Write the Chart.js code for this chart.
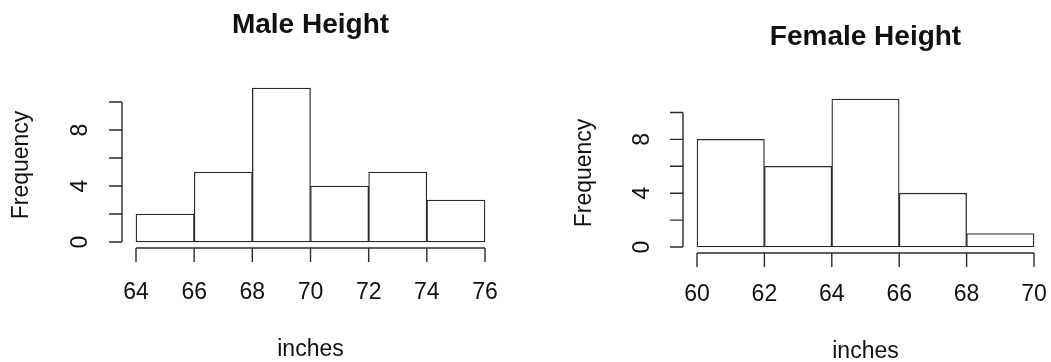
<!DOCTYPE html>
<html>
<head>
<meta charset="utf-8">
<script src="https://cdn.jsdelivr.net/npm/chart.js@4"></script>
<style>
  html, body { margin: 0; padding: 0; background: #fff; }
  .wrap { position: absolute; top: 0; height: 362px; }
  #left { left: 0; width: 525px; }
  #right { left: 525px; width: 526px; }
</style>
</head>
<body>
<div class="wrap" id="left"><canvas id="male" width="525" height="362"></canvas></div>
<div class="wrap" id="right"><canvas id="female" width="526" height="362"></canvas></div>
<script>
// Male histogram: bins of 2 inches from 64 to 76
const maleBreaks = [64, 66, 68, 70, 72, 74, 76];
const maleCounts = [2, 5, 11, 4, 5, 3];
// Female histogram: bins of 2 inches from 60 to 70
const femaleBreaks = [60, 62, 64, 66, 68, 70];
const femaleCounts = [8, 6, 11, 4, 1];
// y axis ticks (R draws every 2, labels only where they fit)
const yTicks = [0, 2, 4, 6, 8, 10];
const yLabels = ['0', '', '4', '', '8', ''];

const FONT = '"Liberation Sans", Arial, Helvetica, sans-serif';
const INK = '#2b2b2b';

// draws R-style detached axes, titles and axis labels
const rAxes = {
  id: 'rAxes',
  afterDraw(chart, args, o) {
    const c = chart.ctx;
    const xs = chart.scales.x, ys = chart.scales.y;
    const area = chart.chartArea;
    c.save();
    c.strokeStyle = INK;
    c.fillStyle = '#111';
    c.lineWidth = 1.4;

    // y axis
    const ax = area.left - 14;
    c.beginPath();
    c.moveTo(ax, ys.getPixelForValue(yTicks[0]));
    c.lineTo(ax, ys.getPixelForValue(yTicks[yTicks.length - 1]));
    yTicks.forEach(v => {
      const py = ys.getPixelForValue(v);
      c.moveTo(ax, py);
      c.lineTo(ax - 13, py);
    });
    c.stroke();
    c.font = '23px ' + FONT;
    c.textAlign = 'center';
    c.textBaseline = 'middle';
    yTicks.forEach((v, i) => {
      if (!yLabels[i]) return;
      c.save();
      c.translate(ax - o.yLabelGap, ys.getPixelForValue(v));
      c.rotate(-Math.PI / 2);
      c.fillText(yLabels[i], 0, 0);
      c.restore();
    });

    // x axis
    const ay = ys.getPixelForValue(0) + 6;
    const br = o.breaks;
    c.beginPath();
    c.moveTo(xs.getPixelForValue(br[0]), ay);
    c.lineTo(xs.getPixelForValue(br[br.length - 1]), ay);
    br.forEach(v => {
      const px = xs.getPixelForValue(v);
      c.moveTo(px, ay);
      c.lineTo(px, ay + 14);
    });
    c.stroke();
    br.forEach(v => c.fillText(String(v), xs.getPixelForValue(v), ay + o.xLabelGap));

    // axis titles
    const cx = (area.left + area.right) / 2;
    c.fillText('inches', cx, o.xTitleY);
    c.save();
    c.translate(o.yTitleX, (area.top + area.bottom) / 2);
    c.rotate(-Math.PI / 2);
    c.fillText('Frequency', 0, 0);
    c.restore();

    // main title
    c.font = 'bold 28px ' + FONT;
    c.fillText(o.title, cx, o.titleY);
    c.restore();
  }
};

function histogram(canvasId, breaks, counts, pad, opts) {
  const points = counts.map((n, i) => ({ x: (breaks[i] + breaks[i + 1]) / 2, y: n }));
  return new Chart(document.getElementById(canvasId), {
    type: 'bar',
    data: {
      datasets: [{
        data: points,
        backgroundColor: '#ffffff',
        borderColor: INK,
        borderWidth: 1.3,
        borderSkipped: false,
        barPercentage: 1,
        categoryPercentage: 1,
        clip: false
      }]
    },
    options: {
      responsive: false,
      animation: false,
      layout: { padding: pad },
      scales: {
        x: { type: 'linear', offset: false, min: breaks[0], max: breaks[breaks.length - 1], display: false },
        y: { min: 0, max: 11, display: false }
      },
      plugins: {
        legend: { display: false },
        tooltip: { enabled: false },
        rAxes: Object.assign({ breaks: breaks }, opts)
      }
    },
    plugins: [rAxes]
  });
}

histogram('male', maleBreaks, maleCounts,
  { left: 136, right: 40, top: 88, bottom: 120 },
  { title: 'Male Height', titleY: 25, xTitleY: 350, yTitleX: 22, yLabelGap: 41, xLabelGap: 45 });

histogram('female', femaleBreaks, femaleCounts,
  { left: 172, right: 17, top: 99, bottom: 115 },
  { title: 'Female Height', titleY: 37, xTitleY: 352, yTitleX: 60, yLabelGap: 40, xLabelGap: 42 });
</script>
</body>
</html>
